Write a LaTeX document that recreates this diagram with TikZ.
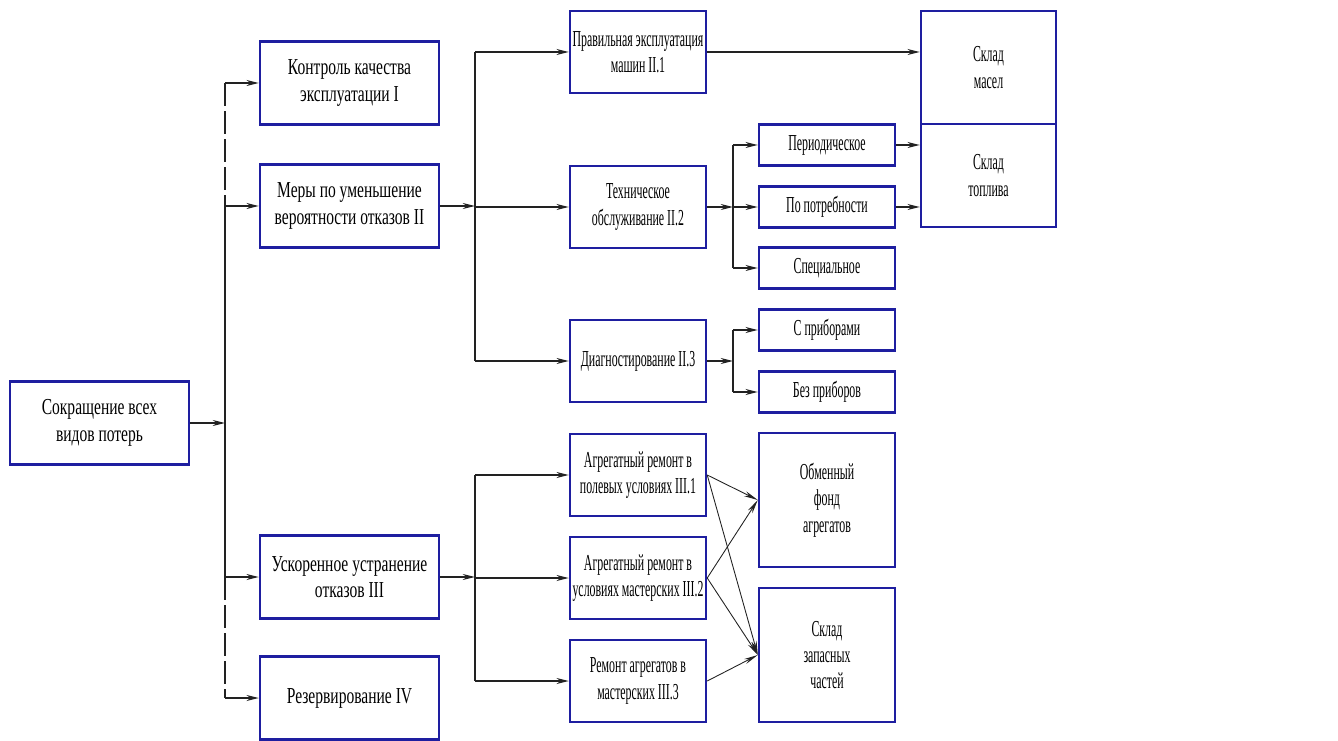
\documentclass[tikz,border=0pt]{standalone}
\usepackage{fontspec}
\setmainfont{Liberation Serif}[FakeStretch=0.52]
\newfontfamily\widefont{Liberation Serif}[FakeStretch=0.68]
\usetikzlibrary{arrows.meta,calc}
\definecolor{cB}{HTML}{1E1EA0}
\definecolor{cL}{HTML}{222222}
\tikzset{
  blk/.style={draw=cB,line width=1.4pt,align=center,inner sep=1pt,
    minimum width=2.72cm,minimum height=1.64cm,font=\fontsize{13}{15}\selectfont},
  wide/.style={blk,minimum width=3.58cm,minimum height=1.66cm,font=\fontsize{13}{15}\widefont},
  small/.style={blk,minimum height=0.82cm},
  tall/.style={blk,minimum height=2.68cm},
  link/.style={draw=cL,line width=0.7pt,-{Stealth[length=7pt,width=3.4pt]}},
  diag/.style={draw=cL,line width=0.5pt,-{Stealth[length=8pt,width=3pt]}},
  trunk/.style={draw=cL,line width=0.7pt},
  dline/.style={trunk,dash pattern=on 13pt off 3pt}
}
\begin{document}
\begin{tikzpicture}
  \useasboundingbox (0,0) rectangle (26.76,14.8);
  % root and first level
  \node[wide] (root) at (1.99,6.34) {Сокращение всех\\видов потерь};
  \node[wide] (k1) at (6.99,13.14) {Контроль качества\\эксплуатации I};
  \node[wide] (k2) at (6.99,10.68) {Меры по уменьшение\\вероятности отказов II};
  \node[wide] (k3) at (6.99,3.26) {Ускоренное устранение\\отказов III};
  \node[wide] (k4) at (6.99,0.84) {Резервирование IV};
  \coordinate (jA) at (4.5,6.34);
  % second level
  \node[blk] (p1) at (12.76,13.76) {Правильная эксплуатация\\машин II.1};
  \node[blk] (p2) at (12.76,10.66) {Техническое\\обслуживание II.2};
  \node[blk] (p3) at (12.76,7.58) {Диагностирование II.3};
  \node[blk] (a1) at (12.76,5.3) {Агрегатный ремонт в\\полевых условиях III.1};
  \node[blk] (a2) at (12.76,3.24) {Агрегатный ремонт в\\условиях мастерских III.2};
  \node[blk] (a3) at (12.76,1.18) {Ремонт агрегатов в\\мастерских III.3};
  \coordinate (jB) at (9.5,10.68);
  \coordinate (jB2) at (9.5,3.26);
  % third level
  \node[small] (s1) at (16.54,11.9) {Периодическое};
  \node[small] (s2) at (16.54,10.66) {По потребности};
  \node[small] (s3) at (16.54,9.44) {Специальное};
  \node[small] (d1) at (16.54,8.2) {С приборами};
  \node[small] (d2) at (16.54,6.96) {Без приборов};
  \node[tall] (ob) at (16.54,4.8) {Обменный\\фонд\\агрегатов};
  \node[tall] (zap) at (16.54,1.7) {Склад\\запасных\\частей};
  \coordinate (jC) at (14.66,10.66);
  \coordinate (jD) at (14.66,7.58);
  % stores
  \node[blk,minimum width=2.7cm,minimum height=2.26cm] (masla) at (19.77,13.45) {Склад\\масел};
  \node[blk,minimum width=2.7cm,minimum height=2.06cm] (topl) at (19.77,11.29) {Склад\\топлива};

  % connectors
  \draw[link] (root.east) -- (jA);
  \draw[dline] (jA |- k1.west) -- (jA |- k2.west);
  \draw[trunk] (jA |- k2.west) -- (jA |- k3.west);
  \draw[dline] (jA |- k3.west) -- (jA |- k4.west);
  \foreach \n in {k1,k2,k3,k4} \draw[link] (jA |- \n.west) -- (\n.west);
  \draw[link] (k2.east) -- (jB);
  \draw[trunk] (jB |- p1.west) -- (jB |- p3.west);
  \foreach \n in {p1,p2,p3} \draw[link] (jB |- \n.west) -- (\n.west);
  \draw[link] (k3.east) -- (jB2);
  \draw[trunk] (jB2 |- a1.west) -- (jB2 |- a3.west);
  \foreach \n in {a1,a2,a3} \draw[link] (jB2 |- \n.west) -- (\n.west);
  \draw[link] (p2.east) -- (jC);
  \draw[trunk] (jC |- s1.west) -- (jC |- s3.west);
  \foreach \n in {s1,s2,s3} \draw[link] (jC |- \n.west) -- (\n.west);
  \draw[link] (p3.east) -- (jD);
  \draw[trunk] (jD |- d1.west) -- (jD |- d2.west);
  \foreach \n in {d1,d2} \draw[link] (jD |- \n.west) -- (\n.west);
  \draw[link] (p1.east) -- (p1.east -| masla.west);
  \draw[link] (s1.east) -- (s1.east -| topl.west);
  \draw[link] (s2.east) -- (s2.east -| topl.west);
  \draw[diag] (a1.east) -- (ob.west);
  \draw[diag] (a1.east) -- (zap.west);
  \draw[diag] (a2.east) -- (ob.west);
  \draw[diag] (a2.east) -- (zap.west);
  \draw[diag] (a3.east) -- (zap.west);
\end{tikzpicture}
\end{document}
